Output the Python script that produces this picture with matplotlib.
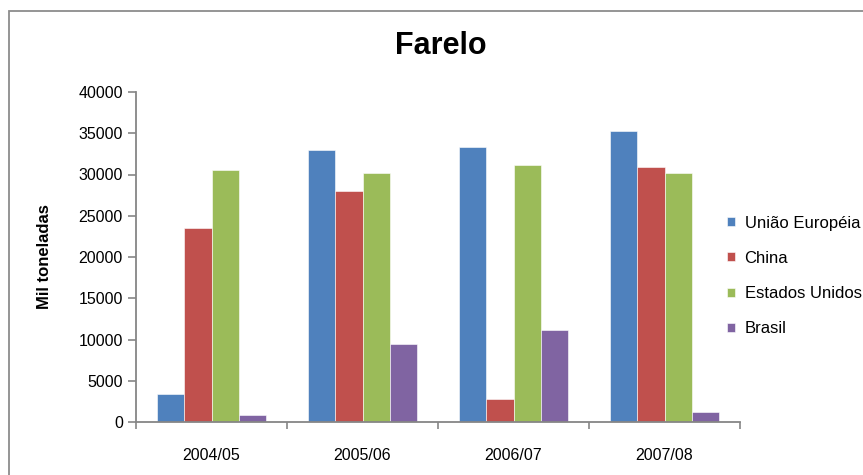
import matplotlib.pyplot as plt
import numpy as np
from matplotlib.patches import Rectangle

plt.rcParams["font.family"] = ["Liberation Sans", "DejaVu Sans"]

safras = ["2004/05", "2005/06", "2006/07", "2007/08"]
series_names = ["União Européia", "China", "Estados Unidos", "Brasil"]
uniao_europeia = [3350, 32950, 33300, 35250]
china = [23550, 27950, 2800, 30850]
estados_unidos = [30500, 30150, 31200, 30150]
brasil = [900, 9450, 11150, 1250]

colors = ["#4F81BD", "#C0504D", "#9BBB59", "#8064A2"]
axis_gray = "#868686"

W, H = 863, 475


def main() -> None:
    fig = plt.figure(figsize=(W / 100, H / 100), dpi=100)
    ax = fig.add_axes([136 / W, 1 - 422 / H, 604 / W, 330 / H])

    # chart area frame
    fig.patches.append(
        Rectangle((9 / W, -0.1), 1.2, 1.1 - 11 / H, transform=fig.transFigure,
                  fill=False, edgecolor="#8c8c8c", linewidth=1.3)
    )

    values = [uniao_europeia, china, estados_unidos, brasil]
    centers = np.arange(len(safras)) + 0.5
    width = 0.181
    for i, (name, vals) in enumerate(zip(series_names, values)):
        offset = (i - 1.5) * width
        ax.bar(centers + offset, vals, width, color=colors[i], label=name,
               edgecolor="white", linewidth=0.4)

    ax.set_xlim(0, len(safras))
    ax.set_ylim(0, 40000)
    ax.set_yticks(range(0, 40001, 5000))
    ax.set_xticks(range(len(safras) + 1))
    ax.set_xticklabels([])
    ax.set_xticks(centers, minor=True)
    ax.set_xticklabels(safras, minor=True)
    ax.tick_params(axis="x", which="major", length=5, color=axis_gray, width=1.2)
    ax.tick_params(axis="x", which="minor", length=0, pad=18.5, labelsize=11.5)
    ax.tick_params(axis="y", length=6, color=axis_gray, width=1.2, pad=3.5, labelsize=11.5)

    for side in ["top", "right"]:
        ax.spines[side].set_visible(False)
    for side in ["left", "bottom"]:
        ax.spines[side].set_color(axis_gray)
        ax.spines[side].set_linewidth(1.3)

    ax.set_ylabel("Mil toneladas", fontsize=12, fontweight="bold")
    ax.yaxis.set_label_coords((52 - 136) / 604, 0.5)
    fig.text(441 / W, 1 - 46 / H, "Farelo", ha="center", va="center",
             fontsize=22, fontweight="bold")

    fig.legend(loc="center left", bbox_to_anchor=(727 / W, 1 - 276 / H),
               frameon=False, fontsize=12, handlelength=0.45, handleheight=0.45,
               handletextpad=0.6, labelspacing=1.21, borderpad=0,
               borderaxespad=0)

    fig.savefig("out.png", dpi=100)


if __name__ == "__main__":
    main()
